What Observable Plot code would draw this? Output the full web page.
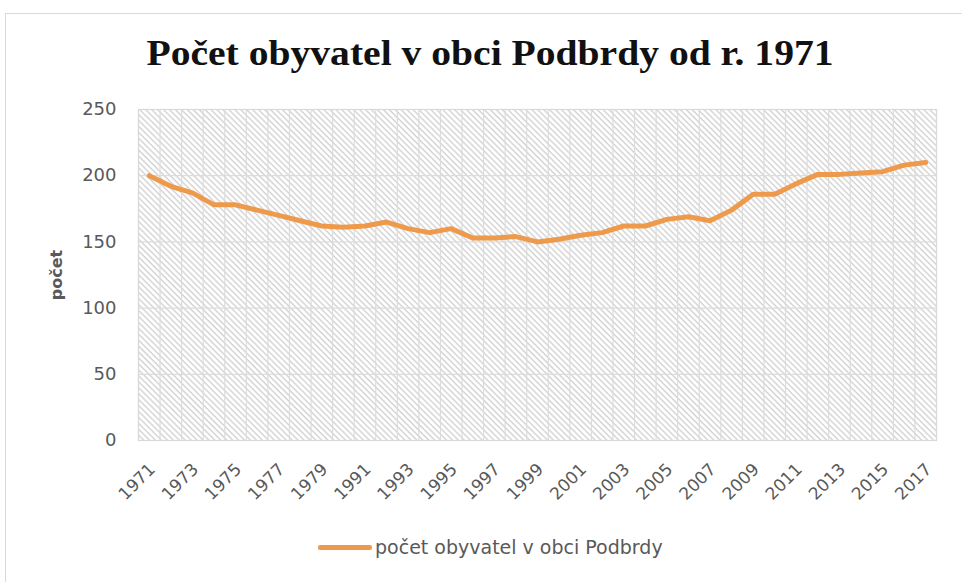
<!DOCTYPE html>
<html>
<head>
<meta charset="utf-8">
<script src="https://cdn.jsdelivr.net/npm/d3@7"></script>
<script src="https://cdn.jsdelivr.net/npm/@observablehq/plot@0.6"></script>
<style>
  html, body { margin: 0; padding: 0; background: #fff; }
  #wrap { position: relative; width: 962px; height: 582px; overflow: hidden; font-family: "DejaVu Sans", sans-serif; }
  #frame { position: absolute; left: 5px; top: 13px; width: 1000px; height: 600px; border: 1px solid #d9d9d9; box-sizing: border-box; }
  #title { position: absolute; left: 0; width: 980px; top: 32px; text-align: center; font-family: "Liberation Serif", serif; font-weight: bold; font-size: 36px; color: #111; white-space: nowrap; transform: scaleX(1.1); transform-origin: 490px 0; }
  #chart { position: absolute; left: 0; top: 90px; }
  #legend { position: absolute; top: 536px; left: 318px; display: flex; align-items: center; font-size: 19px; color: #595959; white-space: nowrap; }
  #legend .sw { width: 54px; height: 5px; background: #EE9A4D; border-radius: 2px; margin-right: 3px; }
</style>
</head>
<body>
<div id="wrap">
  <div id="frame"></div>
  <div id="title">Počet obyvatel v obci Podbrdy od r. 1971</div>
  <div id="chart"></div>
  <div id="legend"><span class="sw"></span><span>počet obyvatel v obci Podbrdy</span></div>
</div>
<script>
const years = ["1971","1972","1973","1974","1975","1976","1977","1978","1979","1980",
  "1991","1992","1993","1994","1995","1996","1997","1998","1999","2000",
  "2001","2002","2003","2004","2005","2006","2007","2008","2009","2010",
  "2011","2012","2013","2014","2015","2016","2017"];
const population = [200,192,187,178,178,174,170,166,162,161,
  162,165,160,157,160,153,153,154,150,152,
  155,157,162,162,167,169,166,174,186,186,
  194,201,201,202,203,208,210];
const yTicks = [0,50,100,150,200,250];
const seriesName = "počet obyvatel v obci Podbrdy";
const yLabel = "počet";

const rows = years.map((y, i) => ({i, year: y, value: population[i]}));
const bounds = d3.range(years.length + 1).map(i => i - 0.5);
const xTicks = d3.range(0, years.length, 2);

const defs = () => {
  const ns = "http://www.w3.org/2000/svg";
  const g = document.createElementNS(ns, "g");
  g.innerHTML = `<defs><pattern id="hatch" width="4.2" height="4.2" patternUnits="userSpaceOnUse" patternTransform="rotate(-45)">
    <line x1="1" y1="0" x2="1" y2="4.2" stroke="#d2d2d2" stroke-width="1.4"/></pattern></defs>`;
  return g;
};

const chart = Plot.plot({
  width: 962,
  height: 430,
  marginLeft: 138,
  marginRight: 26,
  marginTop: 19,
  marginBottom: 80,
  style: {fontFamily: "DejaVu Sans, sans-serif", fontSize: "17px", color: "#595959", background: "transparent"},
  x: {type: "linear", domain: [-0.5, years.length - 0.5], axis: null},
  y: {domain: [0, 250], axis: null},
  marks: [
    defs,
    Plot.frame({fill: "url(#hatch)", stroke: null}),
    Plot.ruleX(bounds, {stroke: "#dcdcdc", strokeWidth: 1.2}),
    Plot.ruleY(yTicks, {stroke: "#dcdcdc", strokeWidth: 1.2}),
    Plot.frame({stroke: "#d9d9d9", strokeWidth: 1.2}),
    Plot.axisY(yTicks, {tickSize: 0, tickPadding: 22, label: null, fontSize: 18, fill: "#595959"}),
    Plot.axisX(xTicks, {tickSize: 0, tickPadding: 26, dx: 3, tickRotate: -45, tickFormat: i => years[i], label: null, fontSize: 17, fill: "#595959"}),
    Plot.text([yLabel], {frameAnchor: "left", textAnchor: "middle", dx: -82, rotate: -90, text: d => d, fontWeight: "bold", fontSize: 16, fill: "#595959"}),
    Plot.line(rows, {x: "i", y: "value", stroke: "#EE9A4D", strokeWidth: 5, strokeLinejoin: "round", strokeLinecap: "round"})
  ]
});
document.getElementById("chart").appendChild(chart);
</script>
</body>
</html>
